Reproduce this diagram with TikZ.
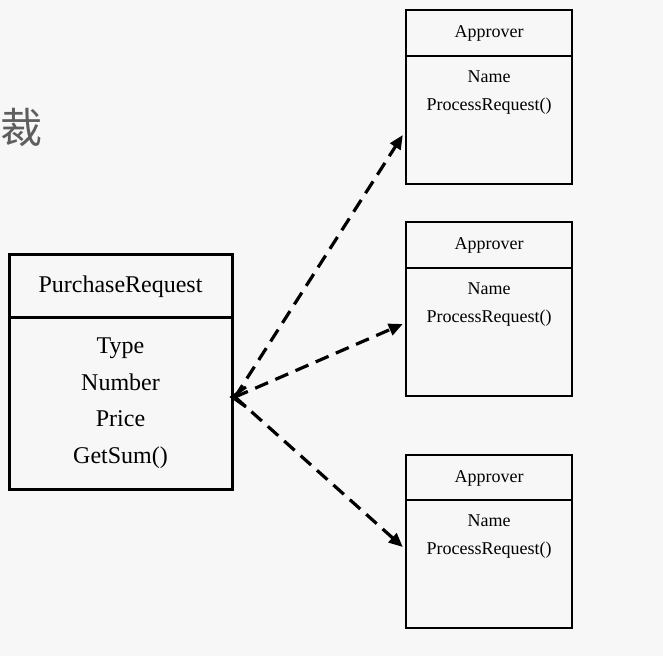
\documentclass[tikz,border=0pt]{standalone}
\usepackage{fontspec}
\setmainfont{Liberation Serif}
\newfontfamily\cjk{Noto Sans CJK SC}
\usetikzlibrary{arrows.meta}
\definecolor{bgc}{HTML}{F7F7F7}
\definecolor{cjkgray}{HTML}{5E5E5E}
\tikzset{
  classbox/.style={draw=black, fill=none, rectangle, inner sep=0pt},
  bigtext/.style={font=\fontsize{24}{24}\selectfont, inner sep=0pt, anchor=base},
  smalltext/.style={font=\fontsize{18}{18}\selectfont, inner sep=0pt, anchor=base},
  depline/.style={draw=black, line width=3.2pt, dash pattern=on 14pt off 8pt, -{Triangle[length=14pt,width=12pt]}},
}
\begin{document}
\begin{tikzpicture}[x=1pt,y=-1pt]
\fill[bgc] (0,0) rectangle (663,656);
\useasboundingbox (0,0) rectangle (663,656);
% faint Chinese character
\node[text=cjkgray, font=\cjk\fontsize{42}{42}\selectfont, inner sep=0pt] (zh) at (21.5,127) {裁};
% PurchaseRequest
\node[classbox, line width=3pt, minimum width=223pt, minimum height=235pt] (pr) at (120.5,371.5) {};
\draw[line width=3pt] (pr.west |- 0,317) -- (pr.east |- 0,317);
\node[bigtext] (prn) at (120.5,292) {PurchaseRequest};
\node[bigtext] (pr1) at (120.5,353) {Type};
\node[bigtext] (pr2) at (120.5,390) {Number};
\node[bigtext] (pr3) at (120.5,426) {Price};
\node[bigtext] (pr4) at (120.5,463) {GetSum()};
% Approvers
\foreach \i/\c/\top/\bot/\dv in {1/97/10/184/56, 2/309/222/396/268, 3/541.5/455/628/500}{
  \node[classbox, line width=2.4pt, minimum width=166pt, minimum height={\bot-\top}] (a\i) at (489,\c) {};
  \draw[line width=2.4pt] (a\i.west |- 0,\dv) -- (a\i.east |- 0,\dv);
}
\node[smalltext] (a1t) at (489,37) {Approver};
\node[smalltext] (a1n) at (489,82) {Name};
\node[smalltext] (a1p) at (489,110) {ProcessRequest()};
\node[smalltext] (a2t) at (489,249) {Approver};
\node[smalltext] (a2n) at (489,294) {Name};
\node[smalltext] (a2p) at (489,322) {ProcessRequest()};
\node[smalltext] (a3t) at (489,482) {Approver};
\node[smalltext] (a3n) at (489,526) {Name};
\node[smalltext] (a3p) at (489,554) {ProcessRequest()};
% connectors
\coordinate (hub) at (232,397);
\coordinate (t1) at ([xshift=-2pt]a1.west |- 0,135);
\coordinate (t2) at ([xshift=-2pt]a2.west |- 0,324);
\coordinate (t3) at ([xshift=-2pt]a3.west |- 0,547);
\draw[depline] ([xshift=3pt]hub) -- (t1);
\draw[depline] ([xshift=3pt]hub) -- (t2);
\draw[depline] ([xshift=3pt]hub) -- (t3);
\draw[line width=3pt, line join=miter] ([shift={(14,-10)}]hub) -- (hub) -- ([shift={(14,10)}]hub);
\end{tikzpicture}
\end{document}
